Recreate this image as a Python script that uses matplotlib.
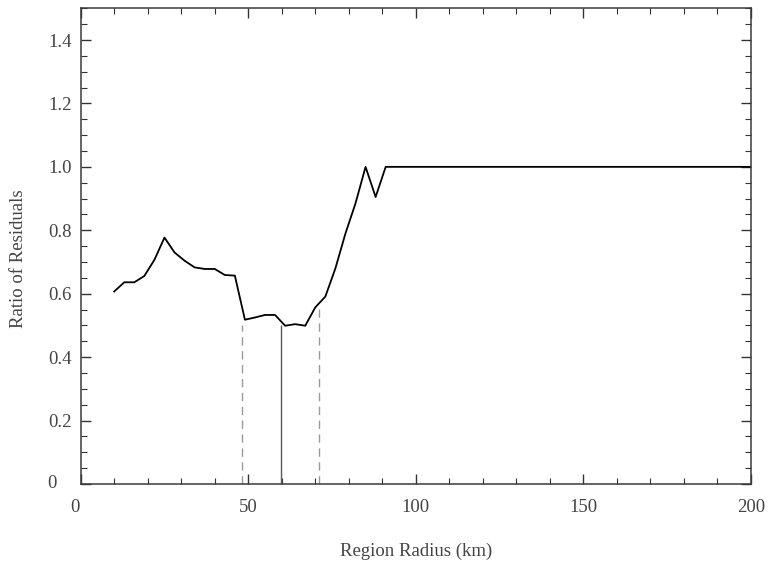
import matplotlib

matplotlib.use("Agg")
import matplotlib.pyplot as plt
import matplotlib.transforms as mtransforms
from matplotlib.ticker import MultipleLocator, FuncFormatter

# region radius (km) and ratio of residuals
radius_km = [10, 13, 16, 19, 22, 25, 28, 31, 34, 37, 40, 43, 46, 49, 52, 55,
             58, 61, 64, 67, 70, 73, 76, 79, 82, 85, 88, 91, 200]
ratio = [0.607, 0.636, 0.636, 0.656, 0.707, 0.777, 0.730, 0.704, 0.683,
         0.678, 0.678, 0.659, 0.657, 0.518, 0.525, 0.533, 0.533, 0.499,
         0.504, 0.499, 0.557, 0.591, 0.680, 0.790, 0.885, 1.0, 0.905,
         1.0, 1.0]

# marker lines: best radius and its bounds
best_radius = 59.7
best_ratio = 0.50
bound_radii = [48.2, 71.0]
bound_heights = [0.50, 0.56]

plt.rcParams["font.family"] = ["Liberation Serif", "DejaVu Serif"]

fig = plt.figure(figsize=(7.7, 5.61), dpi=100)
ax = fig.add_axes((0.1048, 0.1373, 0.8705, 0.8479))

ax.plot(radius_km, ratio, color="black", lw=1.3)
ax.vlines(bound_radii, 0, bound_heights, colors="#9a9a9a", linestyles=(0, (6, 4)), lw=1.0)
ax.vlines(best_radius, 0, best_ratio, colors="#5a5a5a", lw=1.0)

ax.set_xlim(0, 200)
ax.set_ylim(0, 1.5)
ax.xaxis.set_major_locator(MultipleLocator(50))
ax.xaxis.set_minor_locator(MultipleLocator(10))
ax.yaxis.set_major_locator(MultipleLocator(0.2))
ax.yaxis.set_minor_locator(MultipleLocator(0.05))
ax.yaxis.set_major_formatter(FuncFormatter(lambda v, _: "0" if abs(v) < 1e-9 else f"{v:.1f}"))

ax.tick_params(which="both", direction="in", top=True, right=True,
               colors="#333333", labelcolor="#444444", labelsize=13.5)
ax.tick_params(which="major", length=7, width=1.0)
ax.tick_params(which="minor", length=4, width=0.8)
ax.tick_params(axis="x", pad=11)
ax.tick_params(axis="y", pad=6.5)
for sp in ax.spines.values():
    sp.set_color("#3a3a3a")
    sp.set_linewidth(1.1)

ax.set_xlabel("Region Radius (km)", fontsize=13.5, color="#444444", labelpad=19)
ax.set_ylabel("Ratio of Residuals", fontsize=13.5, color="#444444", labelpad=14)
ax.yaxis.label.set_y(0.473)

# the zero labels sit a little off their ticks in the original
fig.canvas.draw()
for lab in ax.get_yticklabels():
    if lab.get_text() == "0":
        lab.set_transform(lab.get_transform()
                          + mtransforms.ScaledTranslation(-0.155, 0.02, fig.dpi_scale_trans))
for lab in ax.get_xticklabels():
    if lab.get_text() == "0":
        lab.set_transform(lab.get_transform()
                          + mtransforms.ScaledTranslation(-0.055, 0, fig.dpi_scale_trans))

fig.savefig("out.png", dpi=100)
plt.close(fig)
